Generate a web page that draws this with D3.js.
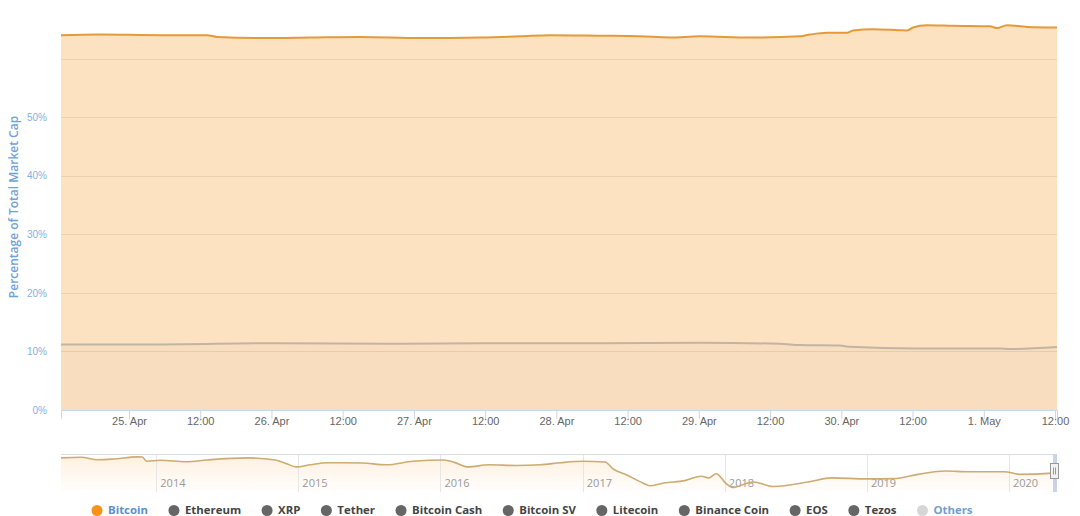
<!DOCTYPE html>
<html><head><meta charset="utf-8">
<script src="https://cdn.jsdelivr.net/npm/d3@7/dist/d3.min.js"></script>
<style>
html,body{margin:0;padding:0;background:#fff;}
svg{display:block;font-family:"Open Sans","DejaVu Sans",sans-serif;}
</style></head>
<body><svg id="c" width="1080" height="516"></svg>
<script>
// ---------- data ----------
const btcTimes = ["2020-04-24T12:33","2020-04-24T19:07","2020-04-25T05:14","2020-04-25T13:09","2020-04-25T14:50","2020-04-25T23:15","2020-04-26T06:30","2020-04-26T14:55","2020-04-27T01:02","2020-04-27T11:08","2020-04-27T17:53","2020-04-27T22:56","2020-04-28T07:21","2020-04-28T14:05","2020-04-28T19:09","2020-04-29T00:12","2020-04-29T08:37","2020-04-29T17:03","2020-04-29T18:44","2020-04-29T21:35","2020-04-30T00:58","2020-04-30T01:58","2020-04-30T05:21","2020-04-30T11:04","2020-04-30T12:05","2020-04-30T14:26","2020-04-30T18:49","2020-05-01T01:03","2020-05-01T02:14","2020-05-01T03:55","2020-05-01T07:17","2020-05-01T12:20"];
const btcValues = [64.0,64.1,64.0,64.0,63.7,63.5,63.6,63.7,63.5,63.6,63.8,64.0,63.9,63.8,63.6,63.8,63.6,63.8,64.1,64.4,64.4,64.8,65.0,64.8,65.3,65.7,65.6,65.5,65.2,65.7,65.4,65.3];

const ethTimes = ["2020-04-24T12:33","2020-04-25T05:14","2020-04-25T23:45","2020-04-26T21:39","2020-04-27T11:08","2020-04-28T07:21","2020-04-29T00:12","2020-04-29T13:39","2020-04-29T17:03","2020-04-29T23:45","2020-04-30T01:27","2020-04-30T12:25","2020-05-01T02:45","2020-05-01T04:27","2020-05-01T12:20"];
const ethValues = [11.2,11.2,11.4,11.3,11.4,11.4,11.5,11.3,11.1,11.0,10.8,10.5,10.5,10.4,10.75];

const navDates = ["2013-05-01","2013-06-21","2013-08-03","2013-09-13","2013-11-13","2013-11-26","2013-12-07","2014-01-12","2014-03-19","2014-05-12","2014-08-25","2014-11-03","2014-11-30","2014-12-26","2015-02-01","2015-03-16","2015-06-13","2015-08-14","2015-10-22","2016-01-10","2016-02-06","2016-03-12","2016-05-05","2016-07-14","2016-09-13","2016-11-05","2017-01-02","2017-02-27","2017-03-21","2017-04-21","2017-06-04","2017-06-22","2017-07-28","2017-09-20","2017-11-02","2017-11-20","2017-12-10","2018-01-03","2018-01-21","2018-03-14","2018-05-06","2018-08-03","2018-10-03","2018-12-31","2019-03-11","2019-05-12","2019-07-21","2019-09-21","2019-12-19","2020-02-01","2020-04-12","2020-05-01"];
const navValues = [93.8,95.1,90.0,91.5,96.0,95.7,86.8,88.7,85.5,89.4,93.8,89.4,82.1,74.7,79.1,83.6,83.0,79.1,86.6,89.4,84.3,74.7,79.1,77.7,79.1,83.6,86.6,85.1,69.6,58.7,40.4,34.5,40.4,45.5,54.9,51.3,60.2,40.4,30.9,42.6,33.0,42.6,51.3,49.1,49.8,58.7,66.0,64.5,64.5,58.7,60.9,62.8];

const yTickValues = [0,10,20,30,40,50,60];
const yTickLabels = ["0%","10%","20%","30%","40%","50%"];
const xTickTimes = ["2020-04-25T00:00","2020-04-25T12:00","2020-04-26T00:00","2020-04-26T12:00","2020-04-27T00:00","2020-04-27T12:00","2020-04-28T00:00","2020-04-28T12:00","2020-04-29T00:00","2020-04-29T12:00","2020-04-30T00:00","2020-04-30T12:00","2020-05-01T00:00","2020-05-01T12:00"];
const xTickLabels = ["25. Apr","12:00","26. Apr","12:00","27. Apr","12:00","28. Apr","12:00","29. Apr","12:00","30. Apr","12:00","1. May","12:00"];
const navYearDates = ["2014-01-01","2015-01-01","2016-01-01","2017-01-01","2018-01-01","2019-01-01","2020-01-01"];
const navYearLabels = ["2014","2015","2016","2017","2018","2019","2020"];
const legendNames = ["Bitcoin","Ethereum","XRP","Tether","Bitcoin Cash","Bitcoin SV","Litecoin","Binance Coin","EOS","Tezos","Others"];
const legendColors = ["#f7931a","#666666","#666666","#666666","#666666","#666666","#666666","#666666","#666666","#666666","#d6d6d6"];
const legendTextColors = ["#5b8fc9","#444444","#444444","#444444","#444444","#444444","#444444","#444444","#444444","#444444","#6f9fd0"];

// ---------- setup ----------
const pt = d3.utcParse("%Y-%m-%dT%H:%M");
const pd = d3.utcParse("%Y-%m-%d");
const svg = d3.select("#c");
const L = 61, R = 1057, T = 0, B = 410;

const x = d3.scaleUtc().domain([pt("2020-04-24T12:33"), pt("2020-05-01T12:20")]).range([L, R]);
const y = d3.scaleLinear().domain([0, 70]).range([B, T]);

const btc = btcTimes.map((t,i)=>({t:pt(t), v:btcValues[i]}));
const eth = ethTimes.map((t,i)=>({t:pt(t), v:ethValues[i]}));

svg.append("defs").append("clipPath").attr("id","plotclip")
  .append("rect").attr("x",L).attr("y",T).attr("width",R-L).attr("height",B-T);

// gridlines
svg.append("g").selectAll("line").data(yTickValues).join("line")
  .attr("x1",L).attr("x2",R).attr("y1",d=>Math.round(y(d))+0.5).attr("y2",d=>Math.round(y(d))+0.5)
  .attr("stroke","#e6e6e6").attr("stroke-width",1);

const plot = svg.append("g").attr("clip-path","url(#plotclip)");
const area = d3.area().x(d=>x(d.t)).y0(y(0)).y1(d=>y(d.v)).curve(d3.curveMonotoneX);
const line = d3.line().x(d=>x(d.t)).y(d=>y(d.v)).curve(d3.curveMonotoneX);

plot.append("path").datum(btc).attr("d",area).attr("fill","rgba(247,147,26,0.27)");
plot.append("path").datum(eth).attr("d",area).attr("fill","rgba(130,120,125,0.04)");
plot.append("path").datum(eth).attr("d",line).attr("fill","none").attr("stroke","#c2b4a4").attr("stroke-width",2);
plot.append("path").datum(btc).attr("d",line).attr("fill","none").attr("stroke","#e59a3a").attr("stroke-width",2);

// y axis labels
const yAxis = d3.axisLeft(y).tickValues(yTickValues.slice(0, yTickLabels.length))
  .tickFormat((d,i)=>yTickLabels[i]).tickSize(0).tickPadding(0);
const gy = svg.append("g").attr("transform",`translate(${L-14},0)`).call(yAxis);
gy.select(".domain").remove();
gy.selectAll("text").attr("fill","#84b1df").attr("font-size","10px").attr("dy","0.32em");

svg.append("text").attr("transform",`translate(18,207) rotate(-90)`)
  .attr("text-anchor","middle").attr("fill","#6fa3d8").attr("font-size","12px").attr("font-weight","600")
  .text("Percentage of Total Market Cap");

// x axis
const xAxis = d3.axisBottom(x).tickValues(xTickTimes.map(pt))
  .tickFormat((d,i)=>xTickLabels[i]).tickSize(9).tickPadding(4);
const gx = svg.append("g").attr("transform",`translate(0,${B})`).call(xAxis);
gx.select(".domain").attr("stroke","#ccd6eb");
gx.selectAll(".tick line").attr("stroke","#ccd6eb");
gx.selectAll(".tick text").attr("fill","#666").attr("font-size","11px").attr("dy","0.2em");

// ---------- navigator ----------
const NT = 454, NB = 492;
const nx = d3.scaleUtc().domain([pd("2013-05-01"), pd("2020-05-01")]).range([L, 1056]);
const ny = d3.scaleLinear().domain([0, 100]).range([502, 455]);
const nav = navDates.map((d,i)=>({t:pd(d), v:navValues[i]}));

const grad = svg.select("defs").append("linearGradient").attr("id","navgrad").attr("x1",0).attr("x2",0).attr("y1",0).attr("y2",1);
grad.append("stop").attr("offset","0%").attr("stop-color","#f7931a").attr("stop-opacity",0.13);
grad.append("stop").attr("offset","100%").attr("stop-color","#f7931a").attr("stop-opacity",0.01);

svg.append("path").datum(nav)
  .attr("d", d3.area().x(d=>nx(d.t)).y0(NB).y1(d=>ny(d.v)).curve(d3.curveMonotoneX))
  .attr("fill","url(#navgrad)");

svg.append("g").selectAll("line").data(navYearDates).join("line")
  .attr("x1",d=>Math.round(nx(pd(d)))+0.5).attr("x2",d=>Math.round(nx(pd(d)))+0.5)
  .attr("y1",NT).attr("y2",NB).attr("stroke","#e6e6e6");
svg.append("g").selectAll("text").data(navYearDates).join("text")
  .attr("x",d=>nx(pd(d))+4).attr("y",487).attr("fill","#999").attr("font-size","11px")
  .text((d,i)=>navYearLabels[i]);

svg.append("path").datum(nav)
  .attr("d", d3.line().x(d=>nx(d.t)).y(d=>ny(d.v)).curve(d3.curveMonotoneX))
  .attr("fill","none").attr("stroke","#cdab72").attr("stroke-width",1.6);

// outline + selected mask
svg.append("line").attr("x1",L).attr("x2",1053).attr("y1",NT+0.5).attr("y2",NT+0.5).attr("stroke","#d8dde6");
svg.append("rect").attr("x",1053).attr("y",NT).attr("width",4).attr("height",NB-NT).attr("fill","rgba(102,133,194,0.35)");
const h = svg.append("g").attr("transform","translate(1050.5,463.5)");
h.append("rect").attr("width",8).attr("height",15).attr("fill","#f2f2f2").attr("stroke","#999");
h.append("line").attr("x1",3).attr("x2",3).attr("y1",4).attr("y2",11).attr("stroke","#999");
h.append("line").attr("x1",5).attr("x2",5).attr("y1",4).attr("y2",11).attr("stroke","#999");

// ---------- legend ----------
const lg = svg.append("g").attr("font-size","11.4px").attr("font-weight","bold");
let cx = 97;
legendNames.forEach((n,i)=>{
  lg.append("circle").attr("cx",cx).attr("cy",510.5).attr("r",5.5).attr("fill",legendColors[i]);
  const t = lg.append("text").attr("x",cx+11).attr("y",514).attr("fill",legendTextColors[i]).text(n);
  const w = t.node().getComputedTextLength();
  cx = cx + 11 + w + 26;
});
</script></body></html>
